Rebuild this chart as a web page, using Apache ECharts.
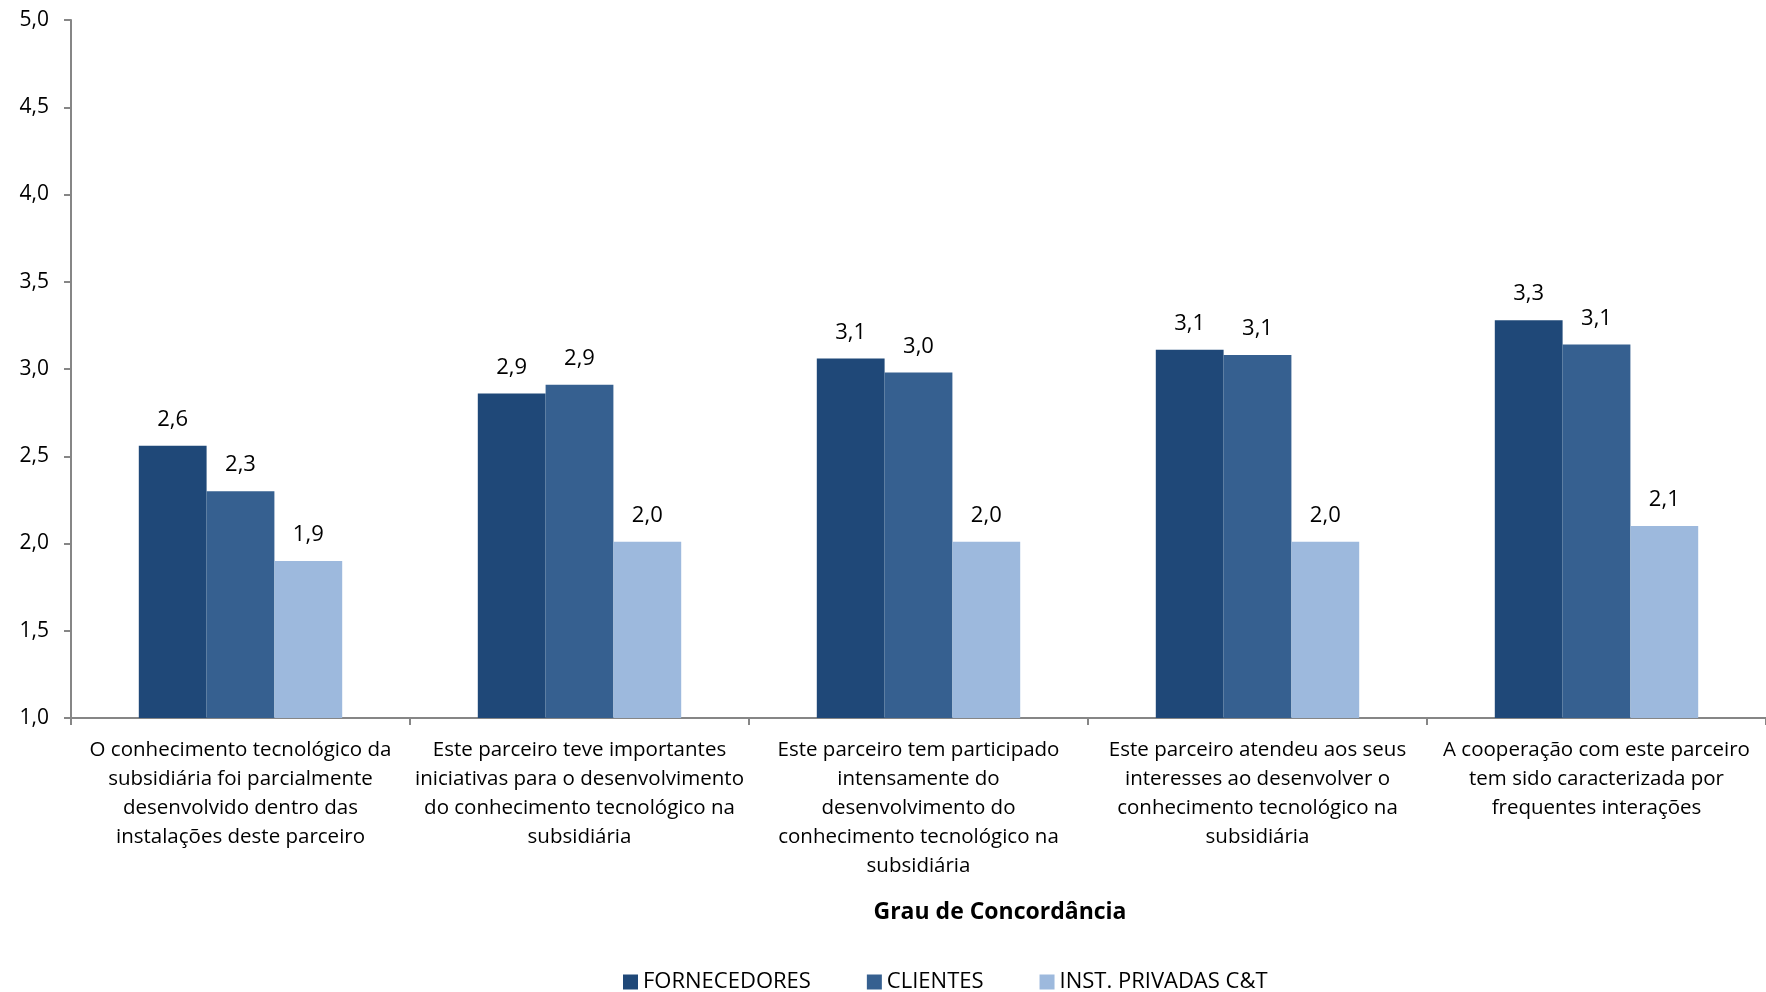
<!DOCTYPE html>
<html><head><meta charset="utf-8">
<script src="https://cdn.jsdelivr.net/npm/echarts@6/dist/echarts.min.js"></script>
<style>html,body{margin:0;padding:0;background:#fff}#c{width:1766px;height:992px}</style>
</head><body><div id="c"></div>
<script>
const categories = [
  "O conhecimento tecnológico da\nsubsidiária foi parcialmente\ndesenvolvido dentro das\ninstalações deste parceiro",
  "Este parceiro teve importantes\niniciativas para o desenvolvimento\ndo conhecimento tecnológico na\nsubsidiária",
  "Este parceiro tem participado\nintensamente do\ndesenvolvimento do\nconhecimento tecnológico na\nsubsidiária",
  "Este parceiro atendeu aos seus\ninteresses ao desenvolver o\nconhecimento tecnológico na\nsubsidiária",
  "A cooperação com este parceiro\ntem sido caracterizada por\nfrequentes interações"
];
const seriesNames = ["FORNECEDORES", "CLIENTES", "INST. PRIVADAS C&T"];
const fornecedores = [2.56, 2.86, 3.06, 3.11, 3.28];
const clientes = [2.30, 2.91, 2.98, 3.08, 3.14];
const instPrivadas = [1.90, 2.01, 2.01, 2.01, 2.10];
const axisTitle = "Grau de Concordância";

const FONT = "'Open Sans', 'Noto Sans', sans-serif";
const colors = ["#1F4878", "#366090", "#9DB9DD"];
const fmt = v => v.toFixed(1).replace('.', ',');

const chart = echarts.init(document.getElementById('c'));
const mk = (name, data, i) => ({
  name, type: 'bar', data,
  barGap: '0%', barCategoryGap: '40%',
  itemStyle: { color: colors[i] },
  label: { show: true, position: 'top', distance: 15, color: '#000', fontFamily: FONT, fontSize: 22,
           formatter: p => fmt(p.value) },
  animation: false
});
chart.setOption({
  animation: false,
  textStyle: { fontFamily: FONT },
  grid: { left: 71, right: 0, top: 20, bottom: 274, containLabel: false },
  xAxis: {
    type: 'category', data: categories,
    axisLine: { lineStyle: { color: '#868686', width: 2 } },
    axisTick: { show: true, length: 7, lineStyle: { color: '#868686', width: 2 } },
    axisLabel: { interval: 0, color: '#000', fontFamily: FONT, fontSize: 20.5, lineHeight: 29, margin: 18 }
  },
  yAxis: {
    type: 'value', min: 1, max: 5, interval: 0.5,
    axisLine: { show: true, lineStyle: { color: '#868686', width: 2 } },
    axisTick: { show: true, length: 7, lineStyle: { color: '#868686', width: 2 } },
    splitLine: { show: false },
    axisLabel: { color: '#000', fontFamily: FONT, fontSize: 21, margin: 22, formatter: v => fmt(v) }
  },
  legend: {
    data: seriesNames, left: 623, top: 971, padding: 0, icon: 'rect', itemWidth: 15, itemHeight: 15, itemGap: 56,
    textStyle: { color: '#000', fontFamily: FONT, fontSize: 22 }
  },
  graphic: [{
    type: 'text', x: 1000, y: 912,
    style: { text: axisTitle, fontFamily: FONT, fontSize: 23, fontWeight: 'bold', fill: '#000',
             textAlign: 'center', textVerticalAlign: 'middle' }
  }],
  series: [mk(seriesNames[0], fornecedores, 0), mk(seriesNames[1], clientes, 1), mk(seriesNames[2], instPrivadas, 2)]
});
</script></body></html>
